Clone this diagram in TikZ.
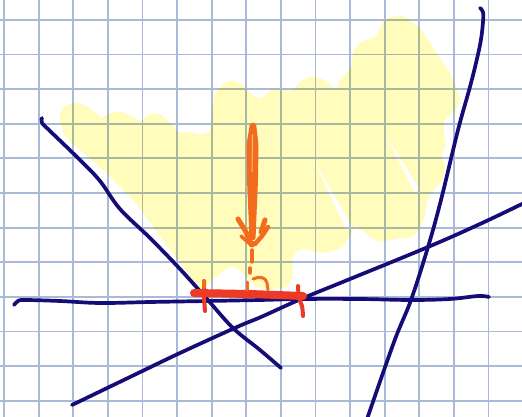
\documentclass[tikz,border=0pt]{standalone}
\definecolor{gridc}{RGB}{168,186,216}
\definecolor{hl}{RGB}{255,252,188}
\definecolor{inkblue}{RGB}{22,12,118}
\definecolor{inkorange}{RGB}{242,108,30}
\definecolor{inkred}{RGB}{236,58,38}
\definecolor{paleorange}{RGB}{250,190,120}
\begin{document}
\begin{tikzpicture}[x=1pt,y=-1pt,
  gridline/.style={gridc,line width=1.8pt},
  blueink/.style={inkblue,line width=3.7pt,line cap=round,line join=round},
  orangeink/.style={inkorange,line width=4pt,line cap=round,line join=round},
  redink/.style={inkred,line width=4pt,line cap=round,line join=round}]
\useasboundingbox (0,0) rectangle (522,417);
\fill[white] (0,0) rectangle (522,417);
% grid paper
\foreach \k in {0,...,15} \draw[gridline] ({4+34.6*\k},0) -- ({4+34.6*\k},417);
\foreach \k in {0,...,11} \draw[gridline] (0,{20+34.6*\k}) -- (522,{20+34.6*\k});
% highlighter
\begin{scope}[blend mode=multiply]
\fill[hl, even odd rule, rounded corners=3pt]
 (59,117) -- (64,106) -- (77,102) -- (90,108) -- (102,118) -- (110,113) -- (120,111) -- (133,117) -- (140,122) -- (150,114) -- (158,113) -- (170,122) -- (178,133) -- (190,132) -- (200,135) -- (210,132) -- (212,110) -- (215,92) -- (228,80) -- (242,84) -- (252,95) -- (261,99) -- (271,89) -- (293,90) -- (302,80) -- (312,76) -- (325,80) -- (336,90) -- (340,80) -- (350,69) -- (354,50) -- (360,42) -- (376,37) -- (384,20) -- (396,15) -- (406,17) -- (420,28) -- (435,50) -- (452,77) -- (461,100) -- (455,111) -- (444,120) -- (444,133) -- (446,147) -- (441,155) -- (446,168) -- (443,180) -- (433,190) -- (427,200) -- (425,217) -- (419,231) -- (410,238) -- (400,238) -- (390,240) -- (380,242) -- (370,237) -- (362,230) -- (355,226) -- (350,235) -- (343,247) -- (330,252) -- (317,253) -- (305,249) -- (298,250) -- (292,258) -- (293,275) -- (288,287) -- (275,289) -- (260,289) -- (250,282) -- (242,272) -- (235,267) -- (228,267) -- (220,274) -- (207,285) -- (200,290) -- (187,272) -- (160,236) -- (140,209) -- (133,200) -- (100,167) -- (72,143) -- (63,133) -- cycle
 [sharp corners]
 (312,156) -- (353,228) -- (346,230) -- cycle
 (383,130) -- (420,190) -- (414,192) -- cycle;
\end{scope}
% blue lines
\draw[blueink] plot[smooth,tension=0.6] coordinates {(42,118) (42,123) (50,131) (80,160) (100,181) (120,209) (150,238) (180,269) (207,299) (233,328) (260,350) (281,368)};
\draw[blueink] plot[smooth,tension=0.6] coordinates {(14,305) (18,301) (25,300) (60,301) (100,303) (150,302) (207,301) (260,300) (301,299) (360,299) (411,300) (450,299) (478,296) (489,297)};
\draw[blueink] plot[smooth,tension=0.6] coordinates {(72,405) (130,377) (180,353) (237,327) (261,317) (301,299) (350,279) (428,247) (480,224) (524,203)};
\draw[blueink] plot[smooth,tension=0.6] coordinates {(480,8) (483,12) (483,22) (480,45) (471,83) (458,130) (441,200) (428,247) (411,300) (394,342) (366,422)};
% red segment with ticks
\draw[inkred,line width=8pt,line cap=round] (194,293) -- (250,294) -- (303,296);
\draw[redink] (204,281) -- (204,298) -- (205,311);
\draw[redink] plot[smooth,tension=0.6] coordinates {(298,286) (299,298) (302,306) (303,316)};
\draw[orangeink,line width=3.5pt] (204,281) -- (204,287);
% orange arrow
\fill[inkorange,rounded corners=2pt] (250,123) -- (256,123) -- (258.5,145) -- (258,180) -- (256.5,215) -- (255.5,240) -- (249.5,240) -- (248.5,215) -- (247,180) -- (246.5,145) -- cycle;
\draw[paleorange,line width=1pt,line cap=round] (252.5,135) -- (252,172);
\draw[orangeink,line width=5pt] (238,219) -- (246,232) -- (251,244);
\draw[orangeink,line width=3.5pt] (241,236) -- (250,244);
\draw[orangeink,line width=4.5pt] (268,227) -- (262,236) -- (255,244);
\draw[orangeink,line width=5pt] (265,220) -- (261,232);
\fill[inkorange] (252,244) circle (3.5pt);
% dashed continuation and right-angle mark
\draw[orangeink,line width=3.5pt] (252,250) -- (252,262);
\draw[orangeink,line width=3.5pt] (250,268) -- (250,273);
\draw[orangeink,line width=3pt] (247,282) -- (247,290);
\draw[orangeink,line width=3pt] (253,279) .. controls (259,276) and (266,277) .. (267,283) -- (268,290);
\end{tikzpicture}
\end{document}
